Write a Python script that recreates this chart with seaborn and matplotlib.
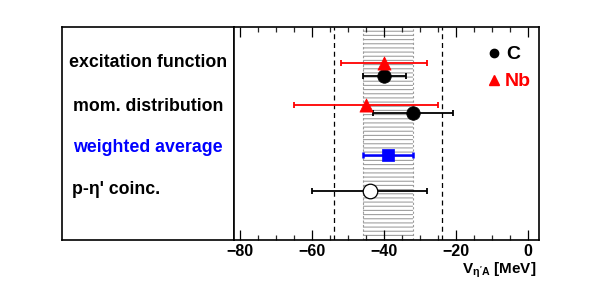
import numpy as np
import pandas as pd
import matplotlib
matplotlib.use("Agg")
import matplotlib.pyplot as plt
import seaborn as sns

# ---- data ----
categories = ["excitation function", "mom. distribution", "weighted average", "p-\u03b7' coinc."]
C_value = [-40, -32]          # excitation function, mom. distribution
C_err = [6, 11]
Nb_value = [-40, -45]
Nb_err = [12, 20]
avg_value = -39
avg_err = 7
coinc_value = -44
coinc_err = 16
band_range = (-46, -32)
dashed_lines = (-54, -24)
xticks = [-80, -60, -40, -20, 0]

sns.set_theme(style="white")
plt.rcParams['font.family'] = ['Liberation Sans', 'DejaVu Sans']
plt.rcParams['mathtext.fontset'] = 'custom'
plt.rcParams['mathtext.rm'] = 'Liberation Sans:bold'
plt.rcParams['mathtext.it'] = 'Liberation Sans:bold'
plt.rcParams['mathtext.bf'] = 'Liberation Sans:bold'
plt.rcParams['hatch.color'] = '#a0a0a0'
plt.rcParams['hatch.linewidth'] = 0.8

fig = plt.figure(figsize=(5.99, 2.81), dpi=100)
W, H = 599, 281
def rect(x0, x1, y0, y1):
    return [x0 / W, 1 - y1 / H, (x1 - x0) / W, (y1 - y0) / H]

axL = fig.add_axes(rect(62, 234, 27, 240))
ax = fig.add_axes(rect(234, 539, 27, 240))

# left label panel
axL.set_xlim(0, 1); axL.set_ylim(0, 1)
axL.set_xticks([]); axL.set_yticks([])
for s in axL.spines.values():
    s.set_color('black'); s.set_linewidth(1.2)
label_y = [0.831, 0.629, 0.432, 0.239]
label_col = ['black', 'black', 'blue', 'black']
for i, (lab, yy, col) in enumerate(zip(categories, label_y, label_col)):
    x = 0.5 if i < 3 else 0.058
    ha = 'center' if i < 3 else 'left'
    axL.text(x, yy, lab, ha=ha, va='center', fontsize=12.8, fontweight='bold', color=col)

# main panel
ax.set_xlim(-81.7, 3.0)
ax.set_ylim(0, 1)
ax.axvspan(band_range[0], band_range[1], facecolor='none', edgecolor='#a0a0a0',
           hatch='----', linewidth=0, zorder=0)
for xv in band_range:
    ax.axvline(xv, color='#9a9a9a', lw=0.8, ls=(0, (2, 2)), zorder=1)
for xv in dashed_lines:
    ax.axvline(xv, color='black', lw=0.9, ls=(0, (4, 3)), zorder=1)

yC = [0.770, 0.598]
yNb = [0.831, 0.634]
y_avg = 0.399
y_coinc = 0.231

dfC = pd.DataFrame({"V": C_value, "y": yC, "err": C_err})
dfNb = pd.DataFrame({"V": Nb_value, "y": yNb, "err": Nb_err})

ekw = dict(fmt='none', capsize=2, elinewidth=1.3, capthick=1.3, zorder=3)
ax.errorbar(dfNb["V"], dfNb["y"], xerr=dfNb["err"], ecolor='red', **ekw)
ax.errorbar(dfC["V"], dfC["y"], xerr=dfC["err"], ecolor='black', **ekw)
ax.errorbar([avg_value], [y_avg], xerr=[avg_err], ecolor='blue', fmt='none',
            capsize=2, elinewidth=1.8, capthick=1.8, zorder=3)
ax.errorbar([coinc_value], [y_coinc], xerr=[coinc_err], ecolor='black', **ekw)

sns.scatterplot(data=dfC, x="V", y="y", ax=ax, marker='o', s=95, color='black',
                edgecolor='black', linewidth=0.5, zorder=4, legend=False)
sns.scatterplot(data=dfNb, x="V", y="y", ax=ax, marker='^', s=90, color='red',
                edgecolor='red', linewidth=0.5, zorder=5, legend=False)
sns.scatterplot(x=[avg_value], y=[y_avg], ax=ax, marker='s', s=80, color='blue',
                edgecolor='blue', linewidth=0.5, zorder=4, legend=False)
sns.scatterplot(x=[coinc_value], y=[y_coinc], ax=ax, marker='o', s=110, color='white',
                edgecolor='black', linewidth=0.9, zorder=4, legend=False)

# legend
ax.plot([0.852], [0.878], 'o', ms=6, color='black', transform=ax.transAxes)
ax.text(0.893, 0.872, 'C', transform=ax.transAxes, va='center', ha='left',
        fontsize=14, fontweight='bold', color='black')
ax.plot([0.852], [0.751], '^', ms=7.5, color='red', transform=ax.transAxes)
ax.text(0.889, 0.745, 'Nb', transform=ax.transAxes, va='center', ha='left',
        fontsize=14, fontweight='bold', color='red')

ax.set_xticks(xticks)
ax.set_xticklabels([str(t).replace('-', '\u2212') for t in xticks], fontweight='bold', fontsize=11.5)
ax.set_xticks(np.arange(-80, 1, 5), minor=True)
ax.set_yticks([])
ax.tick_params(axis='x', which='major', direction='in', length=7, width=0.9,
               top=True, bottom=True, pad=3, colors='black')
ax.tick_params(axis='x', which='minor', direction='in', length=3.5, width=0.9,
               top=True, bottom=True)
ax.set_ylabel('')
for s in ax.spines.values():
    s.set_color('black'); s.set_linewidth(1.2)
ax.set_xlabel(r"V$_{\eta'A}$ [MeV]", fontsize=11, fontweight='bold', color='black',
              ha='right', va='top')
ax.xaxis.set_label_coords(0.993, -0.095)

fig.savefig("out.png", dpi=100)
